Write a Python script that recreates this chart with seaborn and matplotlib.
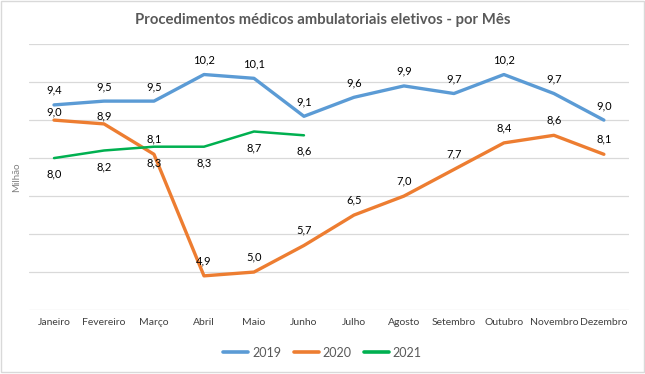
import matplotlib
matplotlib.use("Agg")
import matplotlib.pyplot as plt
import seaborn as sns
import pandas as pd

# -------------------- Data --------------------
meses = ['Janeiro', 'Fevereiro', 'Março', 'Abril', 'Maio', 'Junho',
         'Julho', 'Agosto', 'Setembro', 'Outubro', 'Novembro', 'Dezembro']
v2019 = [9.4, 9.5, 9.5, 10.2, 10.1, 9.1, 9.6, 9.9, 9.7, 10.2, 9.7, 9.0]
v2020 = [9.0, 8.9, 8.1, 4.9, 5.0, 5.7, 6.5, 7.0, 7.7, 8.4, 8.6, 8.1]
v2021 = [8.0, 8.2, 8.3, 8.3, 8.7, 8.6]

anos = ['2019', '2020', '2021']
cores = {'2019': '#5B9BD5', '2020': '#ED7D31', '2021': '#00B050'}

rows = []
for ano, vals in zip(anos, [v2019, v2020, v2021]):
    for m, v in zip(meses, vals):
        rows.append({'mes': m, 'valor': v, 'ano': ano})
df = pd.DataFrame(rows)

# -------------------- Plot --------------------
sns.set_style("white")
plt.rcParams['font.family'] = ['Lato', 'DejaVu Sans']

fig = plt.figure(figsize=(6.45, 3.74), dpi=100)
ax = fig.add_axes([0.045, 0.171, 0.930, 0.711])

sns.lineplot(data=df, x='mes', y='valor', hue='ano', palette=cores,
             ax=ax, sort=False, linewidth=2.4, legend=False)
ax.lines[2].set_linewidth(1.8)

ax.set_xlim(-0.5, len(meses) - 0.5)
ax.set_ylim(4, 11)
ax.set_yticks(range(4, 12))
ax.set_yticklabels([])
ax.tick_params(axis='y', length=0)
ax.tick_params(axis='x', length=0, pad=6, labelsize=7.5, labelcolor='#404040')
ax.grid(axis='y', color='#D9D9D9', linewidth=0.9)
ax.grid(axis='x', visible=False)
for s in ax.spines.values():
    s.set_visible(False)
ax.set_xlabel('')
ax.set_ylabel('Milhão', fontsize=7, color='#7F7F7F')
ax.yaxis.set_label_coords(-0.013, 0.5)

# data labels (comma decimal)
def fmt(v):
    return f'{v:.1f}'.replace('.', ',')

for i, v in enumerate(v2019):
    ax.annotate(fmt(v), (i, v), xytext=(0, 10.5), textcoords='offset points',
                ha='center', va='center', fontsize=8, color='black')
for i, v in enumerate(v2020):
    dy = 6 if i < 2 else 11   # first two sit closer, squeezed under 2019
    ax.annotate(fmt(v), (i, v), xytext=(0, dy), textcoords='offset points',
                ha='center', va='center', fontsize=8, color='black')
for i, v in enumerate(v2021):
    ax.annotate(fmt(v), (i, v), xytext=(0, -11.5), textcoords='offset points',
                ha='center', va='center', fontsize=8, color='black')

fig.suptitle('Procedimentos médicos ambulatoriais eletivos - por Mês',
             y=0.965, fontsize=10.75, fontweight='bold', color='#595959')

handles = [plt.Line2D([], [], color=cores[a], linewidth=2.6) for a in anos]
fig.legend(handles, anos, loc='center', bbox_to_anchor=(0.5, 0.057), ncol=3,
           frameon=False, fontsize=9, labelcolor='#595959',
           handlelength=2.0, columnspacing=1.0, handletextpad=0.3)

# outer chart border
fig.patches.append(plt.Rectangle((0.002, 0.006), 0.996, 0.99, transform=fig.transFigure,
                                 fill=False, edgecolor='#D9D9D9', linewidth=1))

fig.savefig('out.png', dpi=100)
